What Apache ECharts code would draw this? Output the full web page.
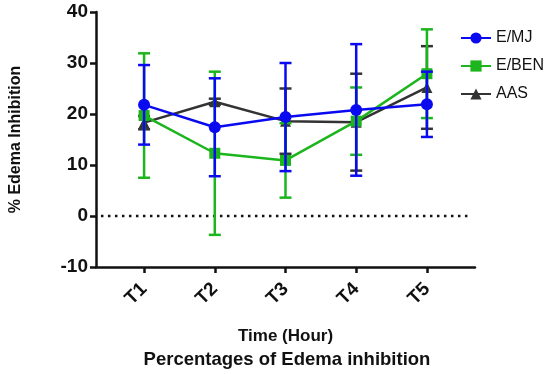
<!DOCTYPE html>
<html>
<head>
<meta charset="utf-8">
<script src="https://cdn.jsdelivr.net/npm/echarts@6/dist/echarts.min.js"></script>
<style>html,body{margin:0;padding:0;background:#fff}#c{width:550px;height:374px}</style>
</head>
<body>
<div id="c"></div>
<script>
var categories = ['T1', 'T2', 'T3', 'T4', 'T5'];
var yTicks = [-10, 0, 10, 20, 30, 40];
var mjMean = [21.8, 17.4, 19.4, 20.8, 21.9];
var mjSD = [7.8, 9.6, 10.6, 12.9, 6.4];
var benMean = [19.7, 12.3, 10.9, 18.6, 27.9];
var benSD = [12.2, 16.0, 7.3, 6.6, 8.7];
var aasMean = [18.3, 22.4, 18.6, 18.4, 25.2];
var aasSD = [1.3, 0.6, 6.4, 9.5, 8.1];
var zeroLineX = [0.39, 5.58];

var BLUE = '#0a0af0', GREEN = '#1db51d', BLACK = '#333333';
var FONT = '"Liberation Sans", Arial, sans-serif';

function pts(mean) { return mean.map(function (v, i) { return [i + 1, v]; }); }
function errs(mean, sd) { return mean.map(function (v, i) { return [i + 1, v - sd[i], v + sd[i]]; }); }

function errSeries(name, mean, sd, color, z) {
  return {
    type: 'custom', name: name + '_err', z: z,
    data: errs(mean, sd),
    encode: { x: 0, y: [1, 2] },
    renderItem: function (params, api) {
      var x = api.value(0);
      var lo = api.coord([x, api.value(1)]);
      var hi = api.coord([x, api.value(2)]);
      var w = 6;
      var st = { stroke: color, lineWidth: 2.5 };
      return {
        type: 'group',
        children: [
          { type: 'line', shape: { x1: lo[0], y1: lo[1], x2: hi[0], y2: hi[1] }, style: st },
          { type: 'line', shape: { x1: lo[0] - w, y1: lo[1], x2: lo[0] + w, y2: lo[1] }, style: st },
          { type: 'line', shape: { x1: hi[0] - w, y1: hi[1], x2: hi[0] + w, y2: hi[1] }, style: st }
        ]
      };
    },
    silent: true
  };
}

function lineSeries(name, mean, color, symbol, size, z) {
  return {
    type: 'line', name: name, z: z,
    data: pts(mean),
    symbol: symbol, symbolSize: size,
    itemStyle: { color: color },
    lineStyle: { color: color, width: 2.5 },
    animation: false
  };
}

var chart = echarts.init(document.getElementById('c'));
chart.setOption({
  animation: false,
  grid: { left: 95, right: 75, top: 12, bottom: 107, containLabel: false },
  legend: {
    orient: 'vertical', left: 455, top: 25,
    itemWidth: 30, itemHeight: 14, itemGap: 12,
    data: ['E/MJ', 'E/BEN', 'AAS'],
    textStyle: { fontFamily: FONT, fontSize: 16, color: '#111' }
  },
  xAxis: {
    type: 'value', min: 0.32, max: 5.68,
    name: 'Time (Hour)', nameLocation: 'middle', nameGap: 61,
    nameTextStyle: { fontFamily: FONT, fontSize: 17, fontWeight: 'bold', color: '#111' },
    splitLine: { show: false },
    axisLine: { onZero: false, lineStyle: { color: '#111', width: 2.5 } },
    axisTick: { show: true, customValues: [1, 2, 3, 4, 5], length: 6, lineStyle: { color: '#111', width: 2.5 } },
    axisLabel: {
      customValues: [1, 2, 3, 4, 5], rotate: 45, margin: 19,
      formatter: function (v) { return categories[Math.round(v) - 1]; },
      fontFamily: FONT, fontSize: 19, fontWeight: 'bold', color: '#111'
    }
  },
  yAxis: {
    type: 'value', min: yTicks[0], max: yTicks[yTicks.length - 1], interval: 10,
    name: '% Edema Inhibition', nameLocation: 'middle', nameGap: 72,
    nameTextStyle: { fontFamily: FONT, fontSize: 16, fontWeight: 'bold', color: '#111' },
    splitLine: { show: false },
    axisLine: { show: true, onZero: false, lineStyle: { color: '#111', width: 2.5 } },
    axisTick: { show: true, length: 6, lineStyle: { color: '#111', width: 2.5 } },
    axisLabel: { margin: 8, fontFamily: FONT, fontSize: 19, fontWeight: 'bold', color: '#111' }
  },
  title: {
    text: 'Percentages of Edema inhibition', left: 282, top: 345, textAlign: 'center',
    textStyle: { fontFamily: FONT, fontSize: 18.5, fontWeight: 'bold', color: '#111' }
  },
  series: [
    {
      type: 'line', name: 'zero', silent: true, z: 1,
      data: zeroLineX.map(function (x) { return [x, 0]; }),
      symbol: 'none',
      lineStyle: { color: '#111', type: [2.5, 4.5], width: 2.5, cap: 'butt' }
    },
    errSeries('AAS', aasMean, aasSD, BLACK, 2),
    lineSeries('AAS', aasMean, BLACK, 'triangle', 11, 3),
    errSeries('E/BEN', benMean, benSD, GREEN, 4),
    lineSeries('E/BEN', benMean, GREEN, 'rect', 11, 5),
    errSeries('E/MJ', mjMean, mjSD, BLUE, 6),
    lineSeries('E/MJ', mjMean, BLUE, 'circle', 12, 7)
  ]
});
</script>
</body>
</html>
